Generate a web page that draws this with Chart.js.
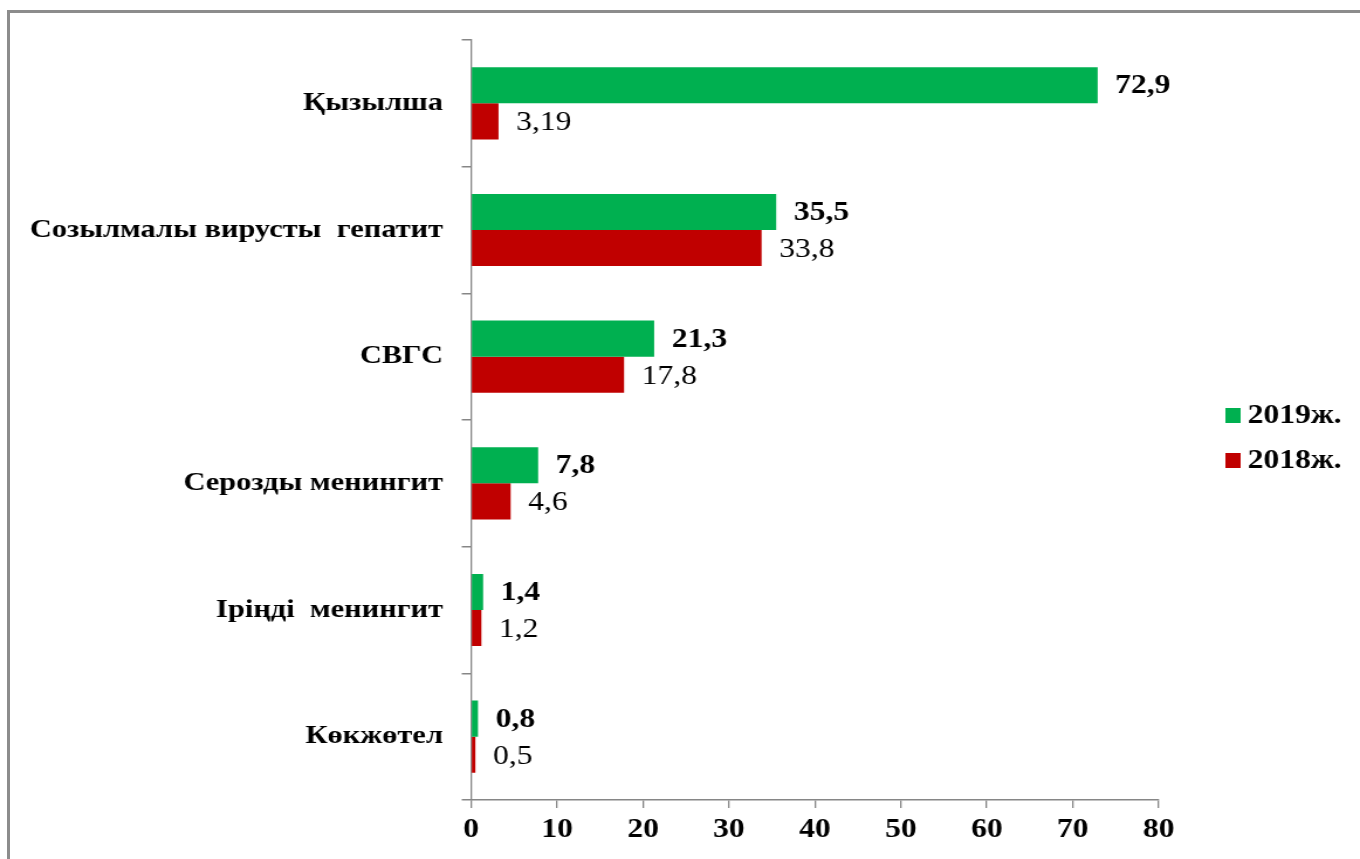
<!DOCTYPE html>
<html>
<head>
<meta charset="utf-8">
<script src="https://cdn.jsdelivr.net/npm/chart.js@4.4.1/dist/chart.umd.min.js"></script>
<style>
  html, body { margin: 0; padding: 0; background: #fff; overflow: hidden; }
  #frame {
    position: absolute; left: 7px; top: 10px; width: 1400px; height: 900px;
    border-left: 3px solid #8c8c8c; border-top: 3px solid #8c8c8c;
  }
  /* the source picture is stretched sideways, so the chart is drawn narrower and widened */
  #wrap {
    position: absolute; left: 0; top: 0; width: 1162px; height: 859px;
    transform: scaleX(1.1704); transform-origin: 0 0;
  }
</style>
</head>
<body>
<div id="frame"></div>
<div id="wrap"><canvas id="chart" width="1162" height="859"></canvas></div>
<script>
// Categories and values
const categories = [
  'Қызылша',
  'Созылмалы вирусты  гепатит',
  'СВГС',
  'Серозды менингит',
  'Іріңді  менингит',
  'Көкжөтел',
];
const values2019 = [72.9, 35.5, 21.3, 7.8, 1.4, 0.8];
const values2018 = [3.19, 33.8, 17.8, 4.6, 1.2, 0.5];
const xTicks = [0, 10, 20, 30, 40, 50, 60, 70, 80];

const FONT = '"Liberation Serif", "Times New Roman", serif';
const AXIS_GREY = '#868686';

// value labels next to the bar ends (comma decimal like the source)
const barLabels = {
  id: 'barLabels',
  afterDatasetsDraw(chart) {
    const ctx = chart.ctx;
    ctx.save();
    chart.data.datasets.forEach((ds, i) => {
      const meta = chart.getDatasetMeta(i);
      ctx.font = (i === 0 ? 'bold ' : '') + '27px ' + FONT;
      ctx.fillStyle = '#000';
      ctx.textAlign = 'left';
      ctx.textBaseline = 'middle';
      meta.data.forEach((bar, j) => {
        const txt = String(ds.data[j]).replace('.', ',');
        ctx.fillText(txt, bar.x + 15, bar.y + (i === 0 ? 1 : 2));
      });
    });
    ctx.restore();
  },
};

// legend drawn off to the right, outside the plot
const sideLegend = {
  id: 'sideLegend',
  afterDraw(chart) {
    const ctx = chart.ctx;
    ctx.save();
    ctx.font = 'bold 27px ' + FONT;
    ctx.textAlign = 'left';
    ctx.textBaseline = 'middle';
    chart.data.datasets.forEach((ds, i) => {
      const y = 415 + i * 45;
      ctx.fillStyle = ds.backgroundColor;
      ctx.fillRect(1047, y - 7, 13, 15);
      ctx.fillStyle = '#000';
      ctx.fillText(ds.label, 1066, y + 1);
    });
    ctx.restore();
  },
};

new Chart(document.getElementById('chart'), {
  type: 'bar',
  data: {
    labels: categories,
    datasets: [
      {
        label: '2019ж.',
        data: values2019,
        backgroundColor: '#00B050',
        barPercentage: 1,
        categoryPercentage: 0.57,
      },
      {
        label: '2018ж.',
        data: values2018,
        backgroundColor: '#C00000',
        barPercentage: 1,
        categoryPercentage: 0.57,
      },
    ],
  },
  options: {
    indexAxis: 'y',
    responsive: false,
    animation: false,
    layout: { padding: { top: 40, right: 172, left: 0, bottom: 0 } },
    plugins: {
      legend: { display: false },
      tooltip: { enabled: false },
    },
    scales: {
      x: {
        min: 0,
        max: 80,
        afterFit: (scale) => { scale.height = 59; },
        afterBuildTicks: (scale) => {
          scale.ticks = xTicks.map((v) => ({ value: v }));
        },
        border: { color: AXIS_GREY, width: 1.5 },
        grid: { drawOnChartArea: false, color: AXIS_GREY, tickLength: 8, lineWidth: 1.3 },
        ticks: {
          color: '#000',
          padding: 6,
          font: { family: FONT, size: 27, weight: 'bold' },
        },
      },
      y: {
        afterFit: (scale) => { scale.width = 402.5; },
        border: { color: AXIS_GREY, width: 1.3 },
        grid: { drawOnChartArea: false, color: AXIS_GREY, tickLength: 8, offset: true, lineWidth: 1.5 },
        ticks: {
          color: '#000',
          padding: 16,
          font: { family: FONT, size: 26, weight: 'bold' },
        },
      },
    },
  },
  plugins: [barLabels, sideLegend],
});
</script>
</body>
</html>
